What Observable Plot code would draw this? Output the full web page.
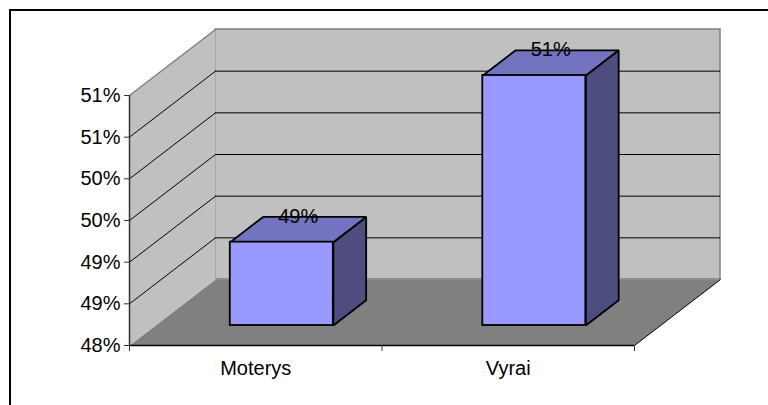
<!DOCTYPE html>
<html><head><meta charset="utf-8">
<script src="https://cdn.jsdelivr.net/npm/d3@7"></script>
<script src="https://cdn.jsdelivr.net/npm/@observablehq/plot@0.6"></script>
<style>
html,body{margin:0;padding:0;background:#fff;overflow:hidden}
#wrap{position:relative;width:768px;height:405px;overflow:hidden}
#frame{position:absolute;left:9px;top:9px;width:900px;height:600px;border:2px solid #000;pointer-events:none}
</style></head><body>
<div id="wrap"><div id="chart"></div><div id="frame"></div></div>
<script>
// ---- data ----
const categories = ["Moterys", "Vyrai"];
const values = [49, 51];
const yTicks = [48, 48.5, 49, 49.5, 50, 50.5, 51];
const gridValues = [48.5, 49, 49.5, 50, 50.5];

// ---- 3D projection constants (in scale units) ----
const yMin = 48, yMax = 51;
const DX = 0.3406, DY = 0.792;          // full-depth offset
const BAR_W = 0.408, D0 = 0.303, D1 = 0.685, DM = (D0 + D1) / 2;
const P = (x, v, d) => ({x: x + d * DX, y: v + d * DY});
const poly = (id, pts) => pts.map(p => ({id, ...p}));

const rows = categories.map((c, i) => ({cat: c, i, v: values[i]}));
const xl = r => r.i + 0.5 - BAR_W / 2, xr = r => r.i + 0.5 + BAR_W / 2;

const floorPts = poly("floor", [P(0, yMin, 0), P(2, yMin, 0), P(2, yMin, 1), P(0, yMin, 1)]);
const leftWallPts = poly("lw", [P(0, yMin, 0), P(0, yMin, 1), P(0, yMax, 1), P(0, yMax, 0)]);
const topPts = rows.flatMap(r => poly("t" + r.i, [P(xl(r), r.v, D0), P(xr(r), r.v, D0), P(xr(r), r.v, D1), P(xl(r), r.v, D1)]));
const sidePts = rows.flatMap(r => poly("s" + r.i, [P(xr(r), yMin, D0), P(xr(r), yMin, D1), P(xr(r), r.v, D1), P(xr(r), r.v, D0)]));

const font = "'Liberation Sans', Arial, sans-serif";

const chart = Plot.plot({
  width: 768, height: 405,
  marginLeft: 129, marginRight: 134, marginTop: 95, marginBottom: 60,
  style: {fontFamily: font, fontSize: "20px", background: "transparent", color: "#000"},
  x: {type: "linear", domain: [0, 2]},
  y: {type: "linear", domain: [yMin, yMax]},
  marks: [
    // floor
    Plot.line(floorPts, {x: "x", y: "y", z: "id", curve: "linear-closed", fill: "#808080", stroke: "none"}),
    // back wall
    Plot.rect([0], {x1: DX, x2: 2 + DX, y1: yMin + DY, y2: yMax + DY, fill: "#C0C0C0", stroke: "#808080", strokeWidth: 1.5}),
    // left wall
    Plot.line(leftWallPts, {x: "x", y: "y", z: "id", curve: "linear-closed", fill: "#C0C0C0", stroke: "none"}),
    Plot.link([yMax], {x1: 0, y1: d => d, x2: DX, y2: d => d + DY, stroke: "#808080", strokeWidth: 1.5}),
    // gridlines
    Plot.ruleY(gridValues, {y: d => d + DY, x1: DX, x2: 2 + DX, stroke: "#000", strokeWidth: 1}),
    Plot.link(gridValues, {x1: 0, y1: d => d, x2: DX, y2: d => d + DY, stroke: "#000", strokeWidth: 1}),
    // floor right edge
    Plot.link([2], {x1: d => d, y1: yMin, x2: d => d + DX, y2: yMin + DY, stroke: "#000", strokeWidth: 1}),
    // bars
    Plot.line(sidePts, {x: "x", y: "y", z: "id", curve: "linear-closed", fill: "#4D4D80", stroke: "#000", strokeWidth: 1.8, strokeLinejoin: "miter"}),
    Plot.line(topPts, {x: "x", y: "y", z: "id", curve: "linear-closed", fill: "#7373BF", stroke: "#000", strokeWidth: 1.8, strokeLinejoin: "miter"}),
    Plot.rect(rows, {x1: r => xl(r) + D0 * DX, x2: r => xr(r) + D0 * DX, y1: yMin + D0 * DY, y2: r => r.v + D0 * DY,
      fill: "#9999FF", stroke: "#000", strokeWidth: 1.8}),
    // value labels
    Plot.text(rows, {x: r => r.i + 0.5 + DM * DX, y: r => r.v + DM * DY, text: r => Math.round(r.v) + "%",
      lineAnchor: "bottom", dy: -7, fontSize: 20, fill: "#000"}),
    // axes lines
    Plot.ruleX([0], {y1: yMin, y2: yMax, stroke: "#333", strokeWidth: 1.5}),
    Plot.ruleY([yMin], {x1: 0, x2: 2, stroke: "#000", strokeWidth: 1.5}),
    Plot.axisY({ticks: yTicks, tickFormat: d => Math.round(d) + "%", tickSize: 5, tickPadding: 4, label: null, fontSize: 20, stroke: "#333"}),
    Plot.axisX({ticks: [0, 1, 2], tickSize: 6, tickFormat: () => "", label: null, stroke: "#333"}),
    Plot.axisX({ticks: [0.5, 1.5], tickFormat: t => categories[Math.floor(t)], tickSize: 0, tickPadding: 15, label: null, fontSize: 20})
  ]
});
document.getElementById("chart").appendChild(chart);
</script>
</body></html>
